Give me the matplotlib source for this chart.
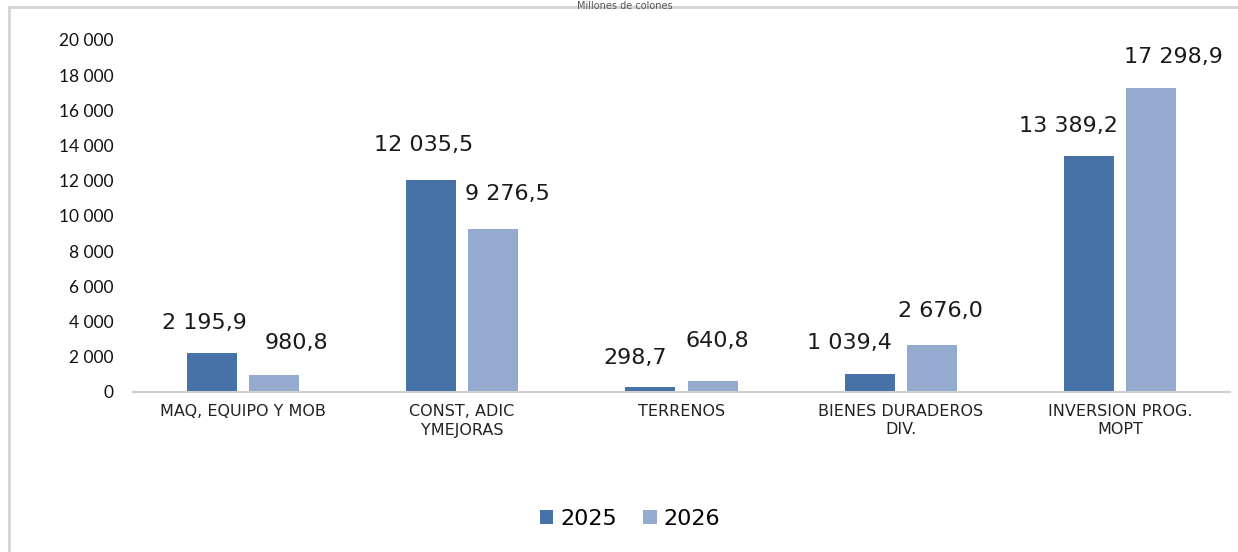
import matplotlib
matplotlib.use("Agg")
import matplotlib.pyplot as plt
from matplotlib.lines import Line2D
import numpy as np

categories = ["MAQ, EQUIPO Y MOB", "CONST, ADIC\nYMEJORAS", "TERRENOS",
              "BIENES DURADEROS\nDIV.", "INVERSION PROG.\nMOPT"]
series_names = ["2025", "2026"]
values_2025 = [2195.9, 12035.5, 298.7, 1039.4, 13389.2]
values_2026 = [980.8, 9276.5, 640.8, 2676.0, 17298.9]
yticks = list(range(0, 20001, 2000))
title = "Millones de colones"

colors = ["#4672A7", "#95AACF"]
# label placement tweaks (pixels) to mimic the reference layout
label_dx = [[-7, -7, -15, -20, -21], [23, 14, 5, 8, 22]]
label_dy = [[30, 35, 29, 31, 30], [32, 35, 40, 34, 31]]

def fmt(v, dec=1):
    s = f"{v:,.{dec}f}"
    s = s.replace(",", " ").replace(".", ",")
    return s

W, H = 1238, 552
fig = plt.figure(figsize=(W / 100, H / 100), dpi=100)
ax = fig.add_axes([133 / W, 1 - 392 / H, (1230 - 133) / W, (392 - 40) / H])

x = np.arange(len(categories))
bw = 0.228
off = 0.1415
for i, (vals, name) in enumerate(zip([values_2025, values_2026], series_names)):
    xs = x + (-off if i == 0 else off)
    ax.bar(xs, vals, width=bw, color=colors[i], label=name, zorder=2)
    for j, (xx, v) in enumerate(zip(xs, vals)):
        ax.annotate(fmt(v), (xx, v), xytext=(label_dx[i][j] * 0.72, label_dy[i][j] * 0.72),
                    textcoords="offset points", ha="center", va="center",
                    fontsize=16, family="DejaVu Sans", color="#1a1a1a")

ax.set_xlim(-0.5, len(categories) - 0.5)
ax.set_ylim(0, 20000)
ax.set_yticks(yticks)
ax.set_yticklabels([fmt(t, 0) for t in yticks], family="Lato", fontsize=12.5, color="#111111")
ax.set_xticks(x)
ax.set_xticklabels(categories, family="DejaVu Sans", fontsize=11.5, color="#222222",
                   linespacing=1.25)
ax.tick_params(axis="y", length=0, pad=14)
ax.tick_params(axis="x", length=0, pad=9)
for s in ["top", "right", "left"]:
    ax.spines[s].set_visible(False)
ax.spines["bottom"].set_color("#d0d0d0")
ax.spines["bottom"].set_linewidth(1.5)

leg = fig.legend(loc="center", bbox_to_anchor=(630 / W, 1 - 519 / H), ncol=2, frameon=False,
                 prop={"family": "DejaVu Sans", "size": 16}, handlelength=0.6, handleheight=0.6,
                 handletextpad=0.3, columnspacing=1.2)

# figure border (left and top edges visible)
fig.add_artist(Line2D([9 / W, 9 / W], [0, 1 - 7 / H], transform=fig.transFigure,
                      color="#d4d4d4", linewidth=2))
fig.add_artist(Line2D([9 / W, 1], [1 - 7 / H, 1 - 7 / H], transform=fig.transFigure,
                      color="#d4d4d4", linewidth=2))
# small title at the very top
fig.text(625 / W, 1 - 1 / H, title, ha="center", va="top", fontsize=7,
         family="DejaVu Sans", color="#555555")

fig.savefig("out.png", dpi=100)
